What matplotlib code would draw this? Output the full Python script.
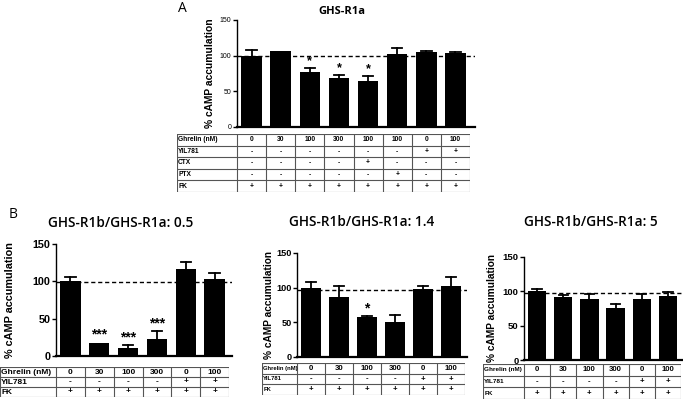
import matplotlib
matplotlib.use("Agg")
import matplotlib.pyplot as plt
from matplotlib.lines import Line2D

W, H = 683, 401

# ---------------- data ----------------
a_title = "GHS-R1a"
a_values = [100, 106, 77, 69, 65, 102, 105.5, 104]
a_errors = [8, 0, 6, 4, 6, 9, 1, 1]
a_stars = ["", "", "*", "*", "*", "", "", ""]
a_row_labels = ["Ghrelin (nM)", "YIL781", "CTX", "PTX", "FK"]
a_ghrelin = ["0", "30", "100", "300", "100", "100", "0", "100"]
a_yil = ["-", "-", "-", "-", "-", "-", "+", "+"]
a_ctx = ["-", "-", "-", "-", "+", "-", "-", "-"]
a_ptx = ["-", "-", "-", "-", "-", "+", "-", "-"]
a_fk = ["+", "+", "+", "+", "+", "+", "+", "+"]

b_row_labels = ["Ghrelin (nM)", "YIL781", "FK"]
b_ghrelin = ["0", "30", "100", "300", "0", "100"]
b_yil = ["-", "-", "-", "-", "+", "+"]
b_fk = ["+", "+", "+", "+", "+", "+"]

b1_title = "GHS-R1b/GHS-R1a: 0.5"
b1_values = [100, 18, 11, 23, 116, 103]
b1_errors = [6, 0, 4, 10, 10, 8]
b1_stars = ["", "***", "***", "***", "", ""]

b2_title = "GHS-R1b/GHS-R1a: 1.4"
b2_values = [100, 86, 58, 51, 98, 102]
b2_errors = [8, 17, 1, 10, 5, 13]
b2_stars = ["", "", "*", "", "", ""]

b3_title = "GHS-R1b/GHS-R1a: 5"
b3_values = [100, 92, 89, 76, 89, 93]
b3_errors = [3, 2, 7, 6, 7, 6]
b3_stars = ["", "", "", "", "", ""]

ref_line = 100
yticks = [0, 50, 100, 150]

fig = plt.figure(figsize=(W / 100, H / 100), dpi=100)
fig.patch.set_facecolor("white")


def box(x0, y0, x1, y1):
    return [x0 / W, 1 - y1 / H, (x1 - x0) / W, (y1 - y0) / H]


def draw_panel(values, errors, stars, rows, row_labels, chart_px, table_px,
               axis_right_px, ylabel_x_px, tick_fs, label_fs, table_fs,
               rowlab_fs, star_fs, dash_y, tick_bold=True):
    n = len(values)
    cx0, cy0, cx1, cy1 = chart_px  # left axis x, top(150) y, col right x, zero y
    colw = (cx1 - cx0) / n
    ax = fig.add_axes(box(cx0, cy0, axis_right_px, cy1))
    ax.set_xlim(0, (axis_right_px - cx0) / colw)
    ax.set_ylim(0, 150)
    xs = [i + 0.5 for i in range(n)]
    ax.bar(xs, values, width=0.7, color="black", zorder=2)
    for x, v, e in zip(xs, values, errors):
        if e > 0:
            ax.plot([x, x], [v, v + e], color="black", lw=1.3, zorder=3)
            ax.plot([x - 0.18, x + 0.18], [v + e, v + e], color="black",
                    lw=1.3, zorder=3)
    for x, v, e, s in zip(xs, values, errors, stars):
        if s:
            ax.text(x, v + e + 1, s, ha="center", va="bottom",
                    fontsize=star_fs, fontfamily="Liberation Sans",
                    fontweight="bold")
    ax.axhline(dash_y, color="black", lw=1.0, ls=(0, (3, 2)), zorder=4)
    for sp in ["top", "right"]:
        ax.spines[sp].set_visible(False)
    ax.spines["left"].set_linewidth(1.0)
    ax.spines["bottom"].set_linewidth(1.6)
    ax.set_xticks([])
    ax.set_yticks(yticks)
    ax.tick_params(axis="y", length=3, width=1, pad=1, labelsize=tick_fs)
    for t in ax.get_yticklabels():
        t.set_fontfamily("Liberation Sans")
        t.set_fontweight("bold" if tick_bold else "normal")
    ax.set_ylabel("% cAMP accumulation", fontsize=label_fs,
                  fontfamily="Liberation Sans", fontweight="bold")
    ax.yaxis.set_label_coords((ylabel_x_px - cx0) / (axis_right_px - cx0), 0.5)
    ax.patch.set_alpha(0)

    # table
    tx0, ty0, tx1, ty1 = table_px
    tax = fig.add_axes(box(tx0, ty0, tx1, ty1))
    tax.set_xlim(tx0, tx1)
    tax.set_ylim(ty1, ty0)
    tax.axis("off")
    nr = len(rows)
    rh = (ty1 - ty0) / nr
    lc = "#555555"
    for r in range(nr + 1):
        tax.add_line(Line2D([tx0, tx1], [ty0 + r * rh] * 2, color=lc, lw=0.8))
    tax.add_line(Line2D([tx0, tx0], [ty0, ty1], color=lc, lw=0.8))
    for c in range(n + 1):
        x = cx0 + c * colw
        tax.add_line(Line2D([x, x], [ty0, ty1], color=lc, lw=0.8))
    for r, (lab, cells) in enumerate(zip(row_labels, rows)):
        yc = ty0 + (r + 0.5) * rh
        tax.text(tx0 + 1.2, yc, lab, ha="left", va="center", fontsize=rowlab_fs,
                 fontfamily="Liberation Sans", fontweight="bold")
        for c, val in enumerate(cells):
            tax.text(cx0 + (c + 0.5) * colw, yc, val, ha="center",
                     va="center", fontsize=table_fs,
                     fontfamily="Liberation Sans", fontweight="bold")
    return ax


# Panel A
draw_panel(a_values, a_errors, a_stars,
           [a_ghrelin, a_yil, a_ctx, a_ptx, a_fk], a_row_labels,
           (237, 20, 470, 127), (177, 134, 470, 192), 475, 215,
           5.0, 7.4, 4.8, 4.8, 9, 100, tick_bold=False)
fig.text(182 / W, 1 - 9 / H, "A", fontsize=10, fontfamily="Open Sans",
         ha="center", va="center")
fig.text(342 / W, 1 - 11 / H, a_title, fontsize=8, fontfamily="Open Sans",
         fontweight="bold", ha="center", va="center")

# Panel B1
draw_panel(b1_values, b1_errors, b1_stars, [b_ghrelin, b_yil, b_fk],
           b_row_labels, (56, 244, 229, 356), (0, 367, 229, 397), 232, 15,
           7.8, 7.8, 6.0, 6.0, 10, 99)
fig.text(13 / W, 1 - 215 / H, "B", fontsize=10, fontfamily="Open Sans",
         ha="center", va="center")
fig.text(121 / W, 1 - 223 / H, b1_title, fontsize=9.8, fontfamily="Open Sans",
         fontweight="semibold", ha="center", va="center")

# Panel B2
draw_panel(b2_values, b2_errors, b2_stars, [b_ghrelin, b_yil, b_fk],
           b_row_labels, (297, 253, 465, 357), (262, 363, 465, 395), 467, 274,
           6.6, 7.3, 5.6, 4.2, 10, 97)
fig.text(362 / W, 1 - 222 / H, b2_title, fontsize=9.8, fontfamily="Open Sans",
         fontweight="semibold", ha="center", va="center")

# Panel B3
draw_panel(b3_values, b3_errors, b3_stars, [b_ghrelin, b_yil, b_fk],
           b_row_labels, (524, 257, 681, 360), (483, 364, 681, 399), 683, 497,
           6.8, 7.3, 5.6, 4.6, 10, 98)
fig.text(591 / W, 1 - 222 / H, b3_title, fontsize=9.8, fontfamily="Open Sans",
         fontweight="semibold", ha="center", va="center")

fig.savefig("out.png", dpi=100)
